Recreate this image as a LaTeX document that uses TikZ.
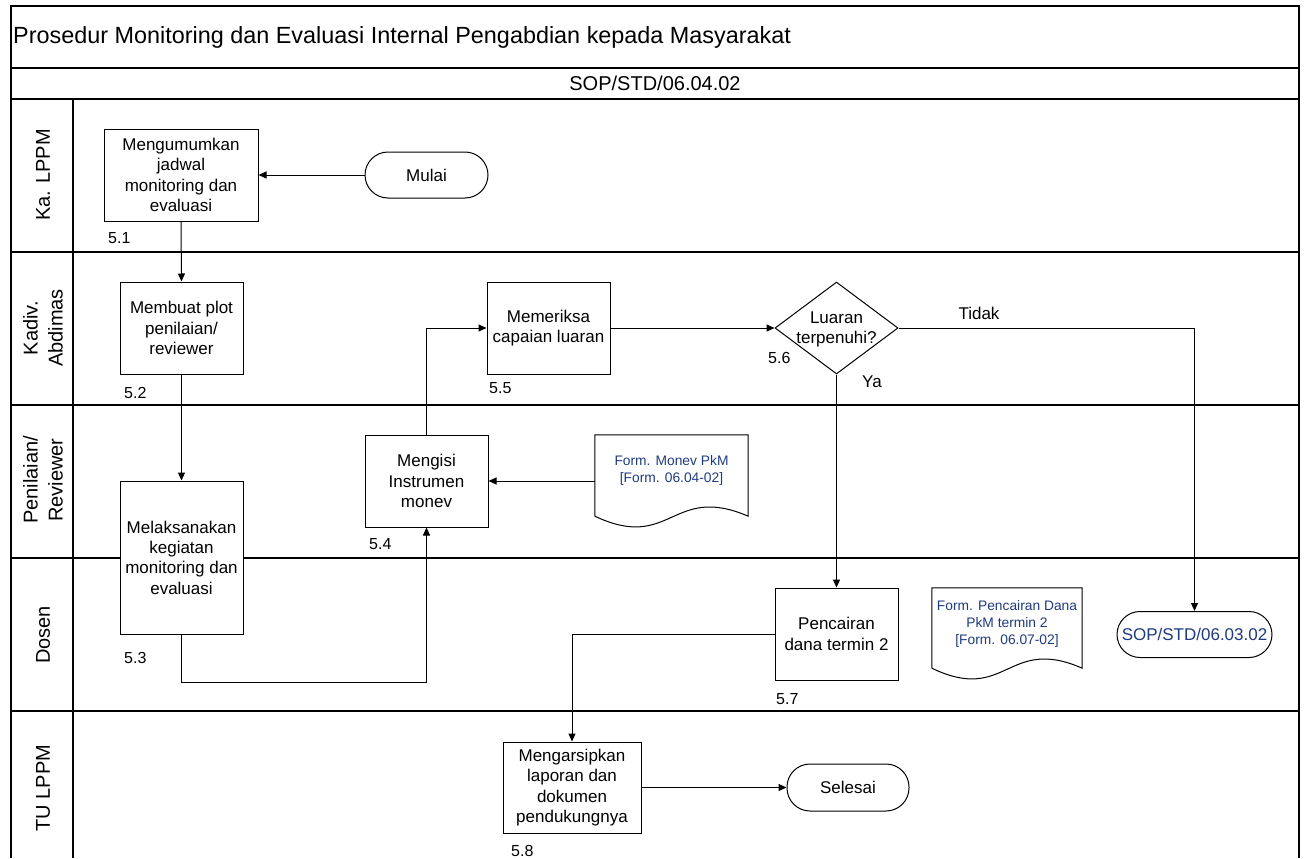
\documentclass[tikz,border=0pt]{standalone}
\usepackage{fontspec}
\setmainfont{Liberation Sans}
\usetikzlibrary{arrows.meta,shapes.geometric,calc}
\definecolor{formblue}{HTML}{1F3A7E}
\begin{document}
\begin{tikzpicture}[x=1pt,y=-1pt,
  box/.style={draw,fill=white,line width=1pt,minimum width=123pt,minimum height=92pt,inner sep=2pt,align=center,font=\fontsize{17}{20.3}\selectfont},
  term/.style={draw,fill=white,line width=1pt,rounded corners=23pt,minimum height=46pt,minimum width=123pt,inner sep=1pt,font=\fontsize{17}{20}\selectfont},
  lane/.style={rotate=90,align=center,inner sep=0pt,font=\fontsize{20}{25}\selectfont},
  num/.style={anchor=west,inner sep=0pt,font=\fontsize{16}{18}\selectfont},
  lbl/.style={inner sep=0pt,font=\fontsize{17}{20}\selectfont},
  formtxt/.style={align=center,text=formblue,font=\fontsize{13.8}{17}\selectfont,inner sep=0pt},
  docbox/.style={minimum width=153pt,minimum height=81pt,inner sep=0pt},
  docline/.style={line width=1pt},
  arr/.style={line width=1pt,-{Triangle[length=8pt,width=7pt]}},
  frame/.style={line width=1.6pt}]
\useasboundingbox (0,0) rectangle (1304,859);
% frame and lanes
\draw[frame] (11,858) -- (11,6) -- (1299,6) -- (1299,858);
\draw[frame] (11,68) -- (1299,68);
\draw[frame] (11,99) -- (1299,99);
\foreach \yy in {252,405,558,711} \draw[frame] (11,\yy) -- (1299,\yy);
\draw[frame] (73,99) -- (73,858);
% header texts
\node[anchor=west,inner sep=0pt,font=\fontsize{23.4}{26}\selectfont] (title) at (13,37) {Prosedur Monitoring dan Evaluasi Internal Pengabdian kepada Masyarakat};
\node[inner sep=0pt,font=\fontsize{20}{24}\selectfont] (code) at (655,83.5) {SOP/STD/06.04.02};
% lane labels
\node[lane] (l1) at (43,175) {Ka. LPPM};
\node[lane] (l2) at (43,328) {Kadiv.\\Abdimas};
\node[lane] (l3) at (43,480) {Penilaian/\\Reviewer};
\node[lane] (l4) at (43,635) {Dosen};
\node[lane] (l5) at (43,788) {TU LPPM};
% nodes
\node[box,minimum width=154pt] (p1) at (181,175) {Mengumumkan\\jadwal\\monitoring dan\\evaluasi};
\node[term] (start) at (426.5,175) {Mulai};
\node[box] (p2) at (181.5,328) {Membuat plot\\penilaian/\\reviewer};
\node[box] (p5) at (548.5,328) {Memeriksa\\capaian luaran};
\node[draw,fill=white,diamond,minimum width=123pt,minimum height=92pt,inner sep=0pt,line width=1pt] (d6) at (836.5,328) {};
\node[lbl,align=center] (d6t) at (836.5,329) {Luaran\\terpenuhi?};
\node[box] (p4) at (426.5,481) {Mengisi\\Instrumen\\monev};
\node[box,minimum height=153pt] (p3) at (181.5,557.5) {Melaksanakan\\kegiatan\\monitoring dan\\evaluasi};
\node[box] (p7) at (836.5,634) {Pencairan\\dana termin 2};
\node[term,minimum width=155pt,text=formblue] (sop) at (1194.5,634.5) {SOP/STD/06.03.02};
\node[box,minimum width=138pt,minimum height=91pt] (p8) at (572,787.5) {Mengarsipkan\\laporan dan\\dokumen\\pendukungnya};
\node[term,minimum width=122pt,minimum height=47pt] (end) at (848,787.5) {Selesai};
% documents
\node[docbox] (f1) at (671.5,475.5) {};
\draw[docline] (f1.south west) -- (f1.north west) -- (f1.north east) -- (f1.south east)
  .. controls ($(f1.south east)+(-76.5,-33)$) and ($(f1.south west)+(76.5,36)$) .. (f1.south west);
\node[formtxt] (f1t) at (671.5,470) {Form. Monev PkM\\{[}Form. 06.04-02{]}};
\node[docbox,minimum width=150pt,minimum height=80pt] (f2) at (1007,628) {};
\draw[docline] (f2.south west) -- (f2.north west) -- (f2.north east) -- (f2.south east)
  .. controls ($(f2.south east)+(-75,-33)$) and ($(f2.south west)+(75,36)$) .. (f2.south west);
\node[formtxt] (f2t) at (1007,624) {Form. Pencairan Dana\\PkM termin 2\\{[}Form. 06.07-02{]}};
% connectors
\draw[arr] (start.west) -- (p1.east);
\draw[arr] (p1.south) -- (p2.north);
\draw[arr] (p2.south) -- (p3.north);
\draw[arr] (p3.south) -- ++(0,48) -| (p4.south);
\draw[arr] (p4.north) |- (p5.west);
\draw[arr] (f1.west |- p4.east) -- (p4.east);
\draw[arr] (p5.east) -- (d6.west);
\draw[arr] (d6.east) -| (sop.north);
\draw[arr] (d6.south) -- (p7.north);
\draw[arr] (p7.west) -| (p8.north);
\draw[arr] (p8.east) -- (end.west);
% labels
\node[lbl] (tidak) at (979,313) {Tidak};
\node[lbl] (ya) at (872,382) {Ya};
\node[num] (n56) at (768,358) {5.6};
\node[num] (n51) at (108,238) {5.1};
\node[num] (n52) at (124,393) {5.2};
\node[num] (n55) at (489,388) {5.5};
\node[num] (n53) at (124,658) {5.3};
\node[num] (n54) at (369,544) {5.4};
\node[num] (n57) at (776,699) {5.7};
\node[num] (n58) at (511,851) {5.8};
\end{tikzpicture}
\end{document}
